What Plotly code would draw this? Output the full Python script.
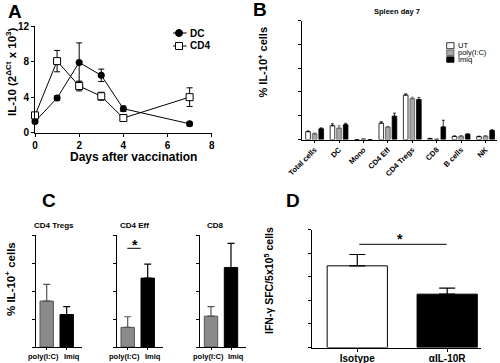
import plotly.graph_objects as go

W, H = 500, 363
FONT = "Liberation Sans"

# ---------------- data ----------------
# Panel A
days = [0, 1, 2, 3, 4, 7]
dc_vals = [1.25, 3.9, 7.9, 6.45, 2.7, 1.0]
dc_err = [0.15, 0.25, 2.2, 0.7, 0.3, 0.15]
cd4_vals = [1.95, 8.05, 5.25, 4.1, 1.65, 4.0]
cd4_err = [0.2, 1.2, 0.55, 0.45, 0.3, 1.05]
a_xticks = [0, 2, 4, 6, 8]
a_yticks = [0, 4, 8, 12]

# Panel B
b_cats = ["Total cells", "DC", "Mono", "CD4 Eff", "CD4 Tregs", "CD8", "B cells", "NK"]
ut_vals = [0.33, 0.58, 0.0, 0.69, 1.87, 0.04, 0.13, 0.12]
ut_err = [0.03, 0.08, 0.0, 0.06, 0.05, 0.01, 0.02, 0.02]
poly_vals = [0.24, 0.48, 0.02, 0.52, 1.72, 0.01, 0.14, 0.14]
poly_err = [0.03, 0.10, 0.01, 0.03, 0.06, 0.01, 0.02, 0.02]
imiq_vals = [0.45, 0.62, 0.0, 0.98, 1.68, 0.53, 0.22, 0.38]
imiq_err = [0.04, 0.06, 0.0, 0.13, 0.08, 0.28, 0.02, 0.03]
b_yticks = [0, 1, 2, 3, 4, 5]
b_yticklabels = ["0", "1", "2", "3", "4", "5"]

# Panel C
c_groups = ["poly(I:C)", "Imiq"]
tregs_vals = [0.82, 0.58]
tregs_err = [0.30, 0.14]
eff_vals = [0.35, 1.23]
eff_err = [0.19, 0.25]
cd8_vals = [0.055, 0.142]
cd8_err = [0.017, 0.043]
c_yticks = [0.0, 0.5, 1.0, 1.5, 2.0]
c_yticklabels = ["0.0", "0.5", "1.0", "1.5", "2.0"]
c8_yticks = [0.0, 0.05, 0.10, 0.15, 0.20]
c8_yticklabels = ["0.00", "0.05", "0.10", "0.15", "0.20"]

# Panel D
d_groups = ["Isotype", "αIL-10R"]
d_vals = [173, 113]
d_err = [24, 13]
d_yticks = [0, 50, 100, 150, 200, 250]
d_yticklabels = ["0", "50", "100", "150", "200", "250"]


def dom_x(a, b):
    return [a / W, b / W]


def dom_y(top, bottom):
    return [1 - bottom / H, 1 - top / H]


def px(x, y):
    return x / W, 1 - y / H


b_pos = list(range(len(b_cats)))
c_pos = list(range(len(c_groups)))
d_pos = list(range(len(d_groups)))

fig = go.Figure()

# ---------------- Panel A ----------------
fig.add_trace(go.Scatter(
    x=days, y=dc_vals, name="DC", mode="lines+markers",
    line=dict(color="black", width=1),
    marker=dict(symbol="circle", size=7, color="black"),
    error_y=dict(type="data", array=dc_err, color="black", thickness=1, width=3),
    xaxis="x", yaxis="y", showlegend=False, cliponaxis=False))
fig.add_trace(go.Scatter(
    x=days, y=cd4_vals, name="CD4", mode="lines+markers",
    line=dict(color="black", width=1),
    marker=dict(symbol="square", size=7, color="white", line=dict(color="black", width=1)),
    error_y=dict(type="data", array=cd4_err, color="black", thickness=1, width=3),
    xaxis="x", yaxis="y", showlegend=False, cliponaxis=False))

# ---------------- Panel B ----------------
b_series = [
    ("UT", ut_vals, ut_err, "white", "black", -0.365),
    ("poly(I:C)", poly_vals, poly_err, "#a8a8a8", "#555555", -0.095),
    ("Imiq", imiq_vals, imiq_err, "black", "black", 0.175),
]
for name, vals, errs, fill, outline, off in b_series:
    fig.add_trace(go.Bar(
        x=b_pos, y=vals, name=name, width=0.19, offset=off,
        marker=dict(color=fill, line=dict(color=outline, width=0.8)),
        error_y=dict(type="data", array=errs, arrayminus=[0] * len(errs), symmetric=False,
                     color=outline, thickness=0.8, width=1.5),
        xaxis="x2", yaxis="y2", showlegend=False))

# ---------------- Panel C ----------------
c_fill = ["#8a8a8a", "black"]
c_line = ["#555555", "black"]
for (vals, errs), (xa, ya) in zip(
        [(tregs_vals, tregs_err), (eff_vals, eff_err), (cd8_vals, cd8_err)],
        [("x3", "y3"), ("x4", "y4"), ("x5", "y5")]):
    for i in c_pos:
        fig.add_trace(go.Bar(
            x=[i], y=[vals[i]], name=c_groups[i], width=0.67, offset=-0.335,
            marker=dict(color=c_fill[i], line=dict(color=c_line[i], width=1)),
            error_y=dict(type="data", array=[errs[i]], arrayminus=[0], symmetric=False,
                         color=c_line[i], thickness=1.2, width=3.5),
            xaxis=xa, yaxis=ya, showlegend=False))

# ---------------- Panel D ----------------
d_fill = ["white", "black"]
for i in d_pos:
    fig.add_trace(go.Bar(
        x=[i], y=[d_vals[i]], name=d_groups[i], width=0.67, offset=-0.335,
        marker=dict(color=d_fill[i], line=dict(color="black", width=1)),
        error_y=dict(type="data", array=[d_err[i]], arrayminus=[0], symmetric=False,
                     color="black", thickness=1.2, width=8),
        xaxis="x6", yaxis="y6", showlegend=False))


def axis(domain, rng, anchor, size, **kw):
    d = dict(domain=domain, range=rng, anchor=anchor, showline=True, linecolor="black",
             linewidth=1, ticks="outside", ticklen=3, tickwidth=1, tickcolor="black",
             showgrid=False, zeroline=False, automargin=False, fixedrange=True,
             showticklabels=True, tickmode="array",
             tickfont=dict(family=FONT, size=size, color="black", weight="bold"))
    d.update(kw)
    return d


# pixel frames: x axis extent (left, right) and y extent (top, bottom)
B_X, B_Y = (301.7, 497), (20.7, 139.5)
D_X, D_Y = (311.7, 481), (229.5, 347.5)
C_XS = [(35.7, 81.7), (116.7, 162.7), (200, 246)]
C_Y = (235, 347)
B_RANGE, C_RANGE, D_RANGE = [-0.53, 7.47], [-0.55, 1.75], [-0.507, 1.376]

layout_axes = dict(
    xaxis=axis(dom_x(35, 211.7), [0, 8], "y", 10, tickvals=a_xticks),
    yaxis=axis(dom_y(26, 132.7), [0, 12], "x", 10, tickvals=a_yticks),
    xaxis2=axis(dom_x(*B_X), B_RANGE, "y2", 7.5, tickvals=b_pos,
                ticktext=b_cats, tickangle=-45, ticklen=2),
    yaxis2=axis(dom_y(*B_Y), [0, 5], "x2", 8, tickvals=b_yticks, showticklabels=False),
    xaxis6=axis(dom_x(*D_X), D_RANGE, "y6", 10, tickvals=d_pos,
                ticktext=d_groups, tickangle=0, ticklabelstandoff=-2),
    yaxis6=axis(dom_y(*D_Y), [0, 250], "x6", 9, tickvals=d_yticks, showticklabels=False),
)
c_specs = [(c_yticks, c_yticklabels, [0, 2]),
           (c_yticks, c_yticklabels, [0, 2]),
           (c8_yticks, c8_yticklabels, [0, 0.2])]
for k, (cx, (tv, tt, rng)) in enumerate(zip(C_XS, c_specs)):
    n = k + 3
    layout_axes[f"xaxis{n}"] = axis(dom_x(*cx), C_RANGE, f"y{n}", 7.5,
                                    tickvals=c_pos, ticklen=2, showticklabels=False)
    layout_axes[f"yaxis{n}"] = axis(dom_y(*C_Y), rng, f"x{n}", 8.5, tickvals=tv,
                                    showticklabels=False)


# y tick labels drawn as text traces on each subplot's own axes
def ytick_trace(xa, ya, xrange_, xpx, gap_px, vals, labels, size):
    units_per_px = (xrange_[1] - xrange_[0]) / (xpx[1] - xpx[0])
    xpos = xrange_[0] - gap_px * units_per_px
    fig.add_trace(go.Scatter(
        x=[xpos] * len(vals), y=vals, text=labels, mode="text",
        textposition="middle left", cliponaxis=False, hoverinfo="skip",
        textfont=dict(family=FONT, size=size, color="black", weight="bold"),
        xaxis=xa, yaxis=ya, showlegend=False))


ytick_trace("x2", "y2", B_RANGE, B_X, 2, b_yticks, b_yticklabels, 8)
ytick_trace("x6", "y6", D_RANGE, D_X, 3.5, d_yticks, d_yticklabels, 9)
for k, (cx, (tv, tt, rng)) in enumerate(zip(C_XS, c_specs)):
    ytick_trace(f"x{k + 3}", f"y{k + 3}", C_RANGE, cx, 1, tv, tt, 8.5)

annotations = []
shapes = []


def text(x, y, s, size, bold=True, angle=0, xanchor="center", color="black"):
    ax_, ay_ = px(x, y)
    annotations.append(dict(
        x=ax_, y=ay_, xref="paper", yref="paper", text=s, showarrow=False,
        textangle=angle, xanchor=xanchor, yanchor="middle", borderpad=0,
        font=dict(family=FONT, size=size, color=color, weight="bold" if bold else "normal")))


def xtick_labels(xref, vals, labels, shifts, y_px, size):
    for v, lab, sh in zip(vals, labels, shifts):
        annotations.append(dict(
            x=v, y=1 - y_px / H, xref=xref, yref="paper", text=lab, xshift=sh,
            showarrow=False, xanchor="center", yanchor="middle", borderpad=0,
            font=dict(family=FONT, size=size, color="black", weight="bold")))


for k in range(3):
    xtick_labels(f"x{k + 3}", c_pos, c_groups, [-3, 5], 356.5, 7.5)

# panel letters
text(14.5, 11.5, "A", 19)
text(259.5, 9, "B", 19)
text(49, 200.5, "C", 19)
text(292.5, 200, "D", 19)

# axis titles
text(11, 72, "IL-10 (2<sup>ΔCt</sup> x 10<sup>3</sup>)", 11.5, angle=-90)
text(133.5, 156.5, "Days after vaccination", 12)
text(262, 62.5, "% IL-10<sup>+</sup> cells", 11, angle=-90)
text(10, 279, "% IL-10<sup>+</sup> cells", 11.5, angle=-90)
text(268, 281, "IFN-γ SFC/5x10<sup>5</sup> cells", 10.5, angle=-90)

# panel titles
text(397, 11.5, "Spleen day 7", 7.5)
text(54, 225, "CD4 Tregs", 8)
text(134, 225, "CD4 Eff", 8)
text(215, 225, "CD8", 8)

# legend A
for yy, label, filled in [(33, "DC", True), (46, "CD4", False)]:
    x0, y0 = px(173, yy)
    x1, _ = px(186.7, yy)
    shapes.append(dict(type="line", xref="paper", yref="paper", x0=x0, x1=x1, y0=y0, y1=y0,
                       line=dict(color="black", width=1)))
    a0, b0 = px(179 - 3.5, yy + 3.5)
    a1, b1 = px(179 + 3.5, yy - 3.5)
    shapes.append(dict(type="circle" if filled else "rect", xref="paper", yref="paper",
                       x0=a0, x1=a1, y0=b0, y1=b1,
                       fillcolor="black" if filled else "white",
                       line=dict(color="black", width=1)))
    text(189, yy, label, 10, xanchor="left")

# legend B
for (top, bot), label, fill, outline in [((42.7, 48.7), "UT", "white", "black"),
                                         ((50, 55.5), "poly(I:C)", "#a8a8a8", "#555555"),
                                         ((56.8, 62.3), "Imiq", "black", "black")]:
    a0, b0 = px(446.7, bot)
    a1, b1 = px(454, top)
    shapes.append(dict(type="rect", xref="paper", yref="paper", x0=a0, x1=a1, y0=b0, y1=b1,
                       fillcolor=fill, line=dict(color=outline, width=0.8)))
    text(456.5, (top + bot) / 2, label, 7.5, bold=False, xanchor="left")

# significance markers
for (xa, xb, yy), (sx, sy) in [((127.3, 140.7, 248.3), (135, 245)),
                               ((359.3, 446.7, 244.3), (400, 239.5))]:
    x0, y0 = px(xa, yy)
    x1, _ = px(xb, yy)
    shapes.append(dict(type="line", xref="paper", yref="paper", x0=x0, x1=x1, y0=y0, y1=y0,
                       line=dict(color="black", width=1)))
    text(sx, sy, "*", 14)

fig.update_layout(
    width=W, height=H, margin=dict(l=0, r=0, t=0, b=0),
    paper_bgcolor="white", plot_bgcolor="rgba(0,0,0,0)", barmode="overlay",
    showlegend=False, annotations=annotations, shapes=shapes,
    font=dict(family=FONT, color="black"),
    **layout_axes)

fig.write_html(
    "out.html", config={"displayModeBar": False},
    post_script="document.body.style.margin='0';document.body.style.overflow='hidden';")
